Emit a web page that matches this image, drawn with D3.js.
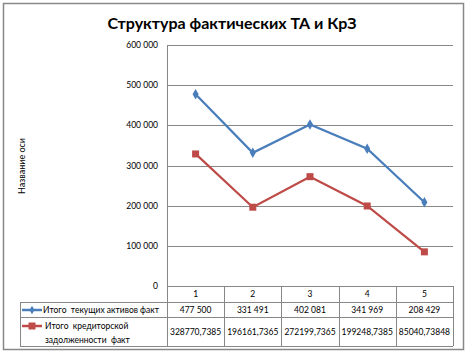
<!DOCTYPE html>
<html>
<head>
<meta charset="utf-8">
<script src="https://cdn.jsdelivr.net/npm/d3@7"></script>
<style>
  body { margin: 0; background: #fff; }
  text { font-family: Lato, "Open Sans", sans-serif; white-space: pre; }
</style>
</head>
<body>
<div id="chart"></div>
<script>
// Data
const categories = ["1", "2", "3", "4", "5"];
const seriesNames = ["Итого  текущих активов факт", "Итого  кредиторской\nзадолженности  факт"];
const currentAssets = [477500, 331491, 402081, 341969, 208429];
const payables = [328770.7385, 196161.7365, 272199.7365, 199248.7385, 85040.73848];
const payablesLabels = ["328770,7385", "196161,7365", "272199,7365", "199248,7385", "85040,73848"];
const yTicks = [0, 100000, 200000, 300000, 400000, 500000, 600000];

// Configuration
const width = 467;
const height = 353;
const plot = { left: 167, right: 453, top: 45, bottom: 286 };
const colors = ["#4a7ebb", "#be4b48"];
const gridColor = "#878787";

const svg = d3.select("#chart").append("svg")
    .attr("width", width)
    .attr("height", height);

// Outer frame
svg.append("rect")
    .attr("x", 3.5).attr("y", 3.5)
    .attr("width", 460).attr("height", 346)
    .attr("fill", "#fff")
    .attr("stroke", "#888").attr("stroke-width", 1.5);

// Title
svg.append("text")
    .attr("x", 232).attr("y", 29)
    .attr("text-anchor", "middle")
    .attr("font-size", 16)
    .attr("font-weight", "bold")
    .text("Структура фактических ТА и КрЗ");

// Scales
const x = d3.scaleBand().domain(categories).range([plot.left, plot.right]);
const y = d3.scaleLinear().domain([0, 600000]).range([plot.bottom, plot.top]);

// Gridlines
svg.append("g").selectAll("line")
    .data(yTicks.filter(d => d > 0))
    .enter().append("line")
    .attr("x1", plot.left).attr("x2", plot.right)
    .attr("y1", d => Math.round(y(d)) + 0.5).attr("y2", d => Math.round(y(d)) + 0.5)
    .attr("stroke", gridColor);

// Y axis tick labels
const fmt = d => d3.format(",")(d).replace(/,/g, " ");
svg.append("g").selectAll("text")
    .data(yTicks)
    .enter().append("text")
    .attr("x", 158)
    .attr("y", d => y(d) + 3)
    .attr("text-anchor", "end")
    .attr("font-size", 8.5)
    .text(d => fmt(d));

// Axis title
svg.append("text")
    .attr("transform", "translate(25,166) rotate(-90)")
    .attr("text-anchor", "middle")
    .attr("font-size", 9)
    .text("Название оси");

// Data table
const rowY = [286, 302, 317, 346];
const colX = [plot.left].concat(categories.map(c => x(c) + x.bandwidth()));
const tableLeft = 20;
const table = svg.append("g").attr("stroke", gridColor).attr("fill", "none");
// horizontal lines
rowY.forEach((ry, i) => {
    table.append("line")
        .attr("x1", i === 0 ? plot.left : tableLeft).attr("x2", plot.right)
        .attr("y1", ry + 0.5).attr("y2", ry + 0.5);
});
// vertical lines
table.append("line")
    .attr("x1", tableLeft + 0.5).attr("x2", tableLeft + 0.5)
    .attr("y1", rowY[1]).attr("y2", rowY[3]);
colX.forEach(cx => {
    table.append("line")
        .attr("x1", Math.round(cx) + 0.5).attr("x2", Math.round(cx) + 0.5)
        .attr("y1", cx === plot.left ? plot.top : rowY[0]).attr("y2", rowY[3]);
});

// Category header
svg.append("g").selectAll("text")
    .data(categories)
    .enter().append("text")
    .attr("x", d => x(d) + x.bandwidth() / 2)
    .attr("y", 297)
    .attr("text-anchor", "middle")
    .attr("font-size", 8.5)
    .text(d => d);

// Row values
svg.append("g").selectAll("text")
    .data(currentAssets)
    .enter().append("text")
    .attr("x", (d, i) => x(categories[i]) + x.bandwidth() / 2)
    .attr("y", 313)
    .attr("text-anchor", "middle")
    .attr("font-size", 8.5)
    .text(d => fmt(d));

svg.append("g").selectAll("text")
    .data(payablesLabels)
    .enter().append("text")
    .attr("x", (d, i) => x(categories[i]) + x.bandwidth() / 2)
    .attr("y", 335)
    .attr("text-anchor", "middle")
    .attr("font-size", 8.5)
    .text(d => d);

// Legend keys in table
const legendRows = [310, 326];
seriesNames.forEach((name, i) => {
    const g = svg.append("g");
    g.append("line")
        .attr("x1", 22).attr("x2", 42)
        .attr("y1", legendRows[i]).attr("y2", legendRows[i])
        .attr("stroke", colors[i]).attr("stroke-width", 2.5);
    if (i === 0) {
        g.append("path")
            .attr("d", d3.symbol(d3.symbolDiamond, 22)())
            .attr("transform", `translate(32,${legendRows[i]})`)
            .attr("fill", colors[i]);
    } else {
        g.append("rect")
            .attr("x", 28.5).attr("y", legendRows[i] - 3.5)
            .attr("width", 7).attr("height", 7)
            .attr("fill", colors[i]);
    }
    const lines = name.split("\n");
    lines.forEach((ln, j) => {
        g.append("text")
            .attr("x", i === 0 ? 43 : 45)
            .attr("y", legendRows[i] + 3 + j * 14)
            .attr("font-size", 8.5)
            .text(ln);
    });
});

// Lines
const line = d3.line()
    .x((d, i) => x(categories[i]) + x.bandwidth() / 2)
    .y(d => y(d));

[currentAssets, payables].forEach((vals, s) => {
    svg.append("path")
        .datum(vals)
        .attr("d", line)
        .attr("fill", "none")
        .attr("stroke", colors[s])
        .attr("stroke-width", 2.25);
});

// Markers
svg.append("g").selectAll("path")
    .data(currentAssets)
    .enter().append("path")
    .attr("d", d3.symbol(d3.symbolDiamond, 32)())
    .attr("transform", (d, i) => `translate(${x(categories[i]) + x.bandwidth() / 2},${y(d)})`)
    .attr("fill", colors[0]);

svg.append("g").selectAll("rect")
    .data(payables)
    .enter().append("rect")
    .attr("x", (d, i) => x(categories[i]) + x.bandwidth() / 2 - 3.5)
    .attr("y", d => y(d) - 3.5)
    .attr("width", 7).attr("height", 7)
    .attr("fill", colors[1]);
</script>
</body>
</html>
